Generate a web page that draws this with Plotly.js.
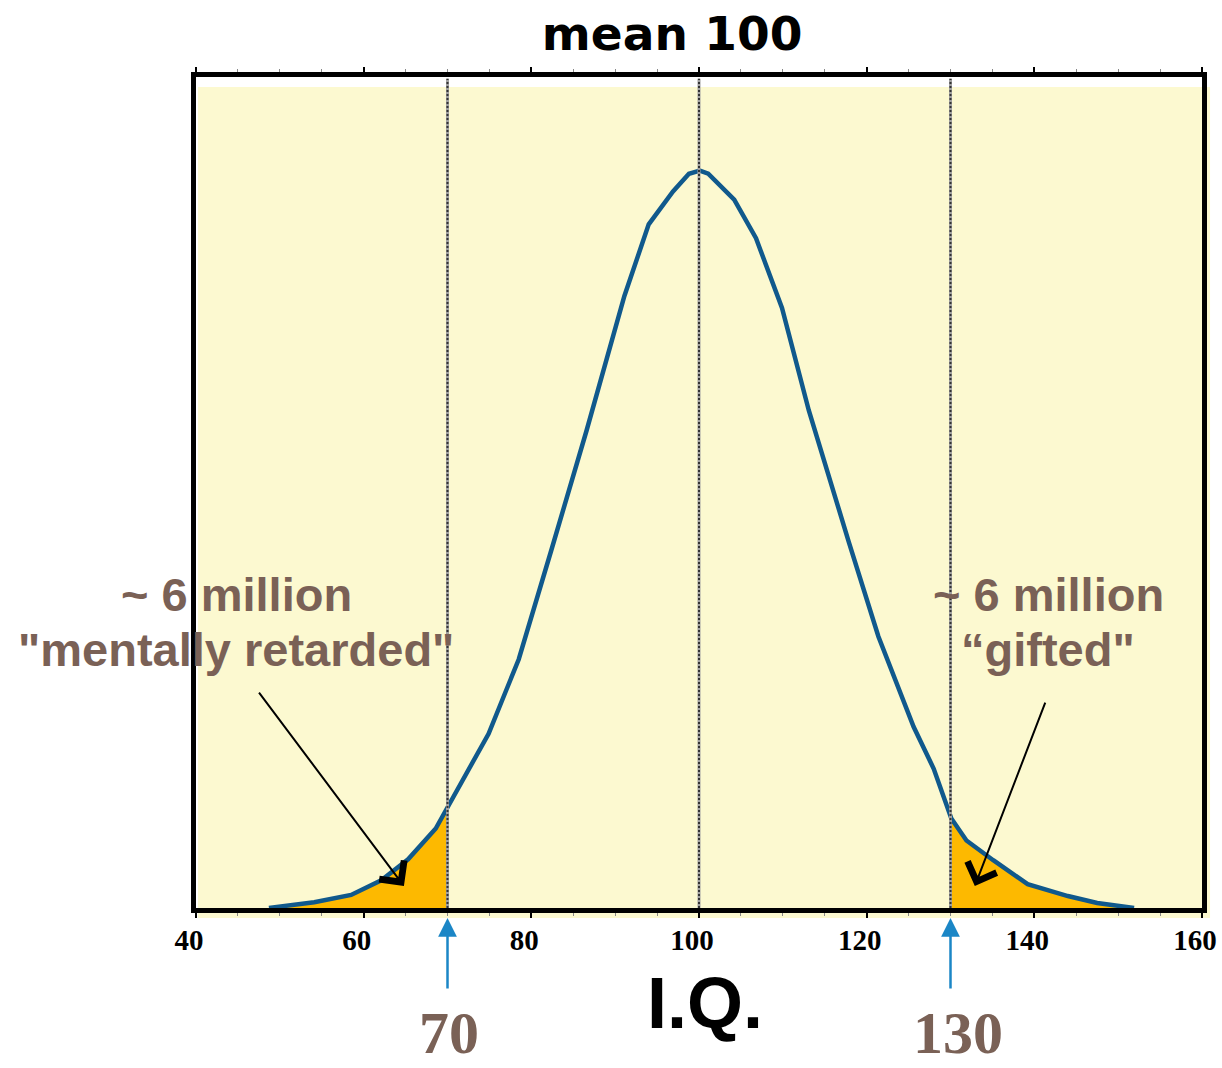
<!DOCTYPE html>
<html>
<head>
<meta charset="utf-8">
<script src="https://cdn.plot.ly/plotly-3.0.1.min.js"></script>
<style>
  html, body { margin: 0; padding: 0; background: #ffffff; }
  #chart { width: 1222px; height: 1068px; }
</style>
</head>
<body>
<div id="chart"></div>
<script>
// IQ distribution curve (density, arbitrary units)
const iqX = [48.7, 54.1, 58.5, 62.1, 65.3, 68.6, 74.9, 78.5, 82.4, 86.6, 91.1, 94.0, 96.9, 98.8,
             100.1, 101.1, 104.2, 106.8, 109.9, 113.1, 117.9, 121.4, 125.6, 128.0, 130.1, 131.9,
             135.1, 139.2, 144.0, 147.5, 151.9];
const iqY = [0, 0.21, 0.47, 1.0, 1.75, 2.86, 6.27, 8.95, 12.89, 17.19, 22.02, 24.6, 25.78, 26.42,
             26.53, 26.42, 25.49, 24.1, 21.59, 17.9, 13.14, 9.77, 6.52, 5.01, 3.22, 2.43,
             1.72, 0.86, 0.43, 0.18, 0];

// Shaded tails below 70 and above 130
const lowTailX = [48.7, 54.1, 58.5, 62.1, 65.3, 68.6, 70];
const lowTailY = [0, 0.21, 0.47, 1.0, 1.75, 2.86, 3.62];
const highTailX = [130, 131.9, 135.1, 139.2, 144.0, 147.5, 151.9];
const highTailY = [3.3, 2.43, 1.72, 0.86, 0.43, 0.18, 0];

// Reference lines and their labels
const guideLines = [70, 100, 130];
const cutoffLabels = ['70', '130'];
const cutoffValues = [70, 130];

// Axis ticks
const tickVals = [40, 60, 80, 100, 120, 140, 160];
const tickText = ['40', '60', '80', '100', '120', '140', '160'];

const titleText = 'mean 100';
const axisLabel = 'I.Q.';
const lowText = ['~ 6 million', '"mentally retarded"'];
const highText = ['~ 6 million', '\u201Cgifted"'];

const brown = '#7A6156';
const blue = '#10598C';
const orange = '#FDB900';
const arrowBlue = '#1B86C6';

const traces = [
  {
    x: lowTailX, y: lowTailY, type: 'scatter', mode: 'lines',
    fill: 'tozeroy', fillcolor: orange, line: { width: 0, color: orange },
    hoverinfo: 'skip', showlegend: false
  },
  {
    x: highTailX, y: highTailY, type: 'scatter', mode: 'lines',
    fill: 'tozeroy', fillcolor: orange, line: { width: 0, color: orange },
    hoverinfo: 'skip', showlegend: false
  },
  {
    x: iqX, y: iqY, type: 'scatter', mode: 'lines',
    line: { color: blue, width: 4.5, shape: 'linear' },
    showlegend: false
  }
];

const shapes = [
  // pale yellow backdrop, slightly offset from the frame
  {
    type: 'rect', xref: 'paper', yref: 'paper',
    x0: 0.002, x1: 1.008, y0: -0.012, y1: 0.988,
    fillcolor: '#FCF9D0', line: { width: 0 }, layer: 'below'
  }
];
guideLines.forEach(v => {
  shapes.push({
    type: 'line', xref: 'x', yref: 'paper',
    x0: v, x1: v, y0: 0, y1: 0.998,
    line: { color: '#a0a0a0', width: 3 }, layer: 'above'
  });
  shapes.push({
    type: 'line', xref: 'x', yref: 'paper',
    x0: v, x1: v, y0: 0, y1: 0.998,
    line: { color: '#333333', width: 2, dash: '2px,2px' }, layer: 'above'
  });
});

const brownFont = { family: 'Liberation Sans, Arial, sans-serif', size: 47, color: brown, weight: 'bold' };

const annotations = [
  { text: lowText[0], xref: 'paper', yref: 'paper', x: 0.0398, y: 0.3767,
    xanchor: 'center', yanchor: 'middle', showarrow: false, font: brownFont },
  { text: lowText[1], xref: 'paper', yref: 'paper', x: 0.0398, y: 0.3105,
    xanchor: 'center', yanchor: 'middle', showarrow: false, font: brownFont },
  { text: highText[0], xref: 'paper', yref: 'paper', x: 0.847, y: 0.3767,
    xanchor: 'center', yanchor: 'middle', showarrow: false, font: brownFont },
  { text: highText[1], xref: 'paper', yref: 'paper', x: 0.847, y: 0.3105,
    xanchor: 'center', yanchor: 'middle', showarrow: false, font: brownFont },
  // pointers into the shaded tails
  { text: '', xref: 'x', yref: 'y', x: 64.8, y: 0.79, ax: -146, ay: -195,
    showarrow: true, arrowhead: 4, arrowsize: 3, arrowwidth: 2, arrowcolor: '#000000' },
  { text: '', xref: 'x', yref: 'y', x: 132.9, y: 0.79, ax: 71, ay: -185,
    showarrow: true, arrowhead: 4, arrowsize: 3, arrowwidth: 2, arrowcolor: '#000000' },
  // axis label
  { text: axisLabel, xref: 'paper', yref: 'paper', x: 0.506, y: -0.1143,
    xanchor: 'center', yanchor: 'middle', showarrow: false,
    font: { family: 'Liberation Sans, Arial, sans-serif', size: 72, color: '#000000', weight: 'bold' } }
];

cutoffValues.forEach((v, i) => {
  annotations.push({
    text: '', xref: 'x', yref: 'paper', x: v, y: -0.012, ax: 0, ay: 72,
    showarrow: true, arrowhead: 2, arrowsize: 1.5, arrowwidth: 2.5, arrowcolor: arrowBlue
  });
  annotations.push({
    text: cutoffLabels[i], xref: 'x', yref: 'paper', x: v, y: -0.1925,
    xanchor: 'center', yanchor: 'bottom', showarrow: false, xshift: i === 0 ? 1 : 7,
    font: { family: 'Liberation Serif, Times New Roman, serif', size: 60, color: brown, weight: 'bold' }
  });
});

const layout = {
  width: 1222, height: 1068,
  margin: { l: 196, r: 20, t: 77, b: 160 },
  paper_bgcolor: '#ffffff',
  plot_bgcolor: 'rgba(0,0,0,0)',
  title: {
    text: titleText,
    x: 0.55, xref: 'container', xanchor: 'center',
    y: 0.969, yref: 'container', yanchor: 'middle',
    font: { family: 'DejaVu Sans, sans-serif', size: 47, color: '#000000', weight: 'bold' }
  },
  xaxis: {
    range: [40, 160],
    tickvals: tickVals, ticktext: tickText,
    ticks: 'outside', ticklen: 5, tickwidth: 2, tickcolor: '#000000',
    minor: { dtick: 5, ticks: 'outside', ticklen: 3, tickwidth: 1, tickcolor: '#888888' },
    showline: true, linewidth: 5, linecolor: '#000000', mirror: 'ticks',
    showgrid: false, zeroline: false,
    ticklabeloverflow: 'allow',
    ticklabelshift: -7,
    ticklabelstandoff: -3,
    tickfont: { family: 'Liberation Serif, Times New Roman, serif', size: 29, color: '#000000', weight: 'bold' }
  },
  yaxis: {
    range: [0, 29.9],
    showline: true, linewidth: 5, linecolor: '#000000', mirror: true,
    showticklabels: false, ticks: '', showgrid: false, zeroline: false
  },
  shapes: shapes,
  annotations: annotations,
  showlegend: false
};

Plotly.newPlot('chart', traces, layout, { displayModeBar: false, staticPlot: true });
</script>
</body>
</html>
